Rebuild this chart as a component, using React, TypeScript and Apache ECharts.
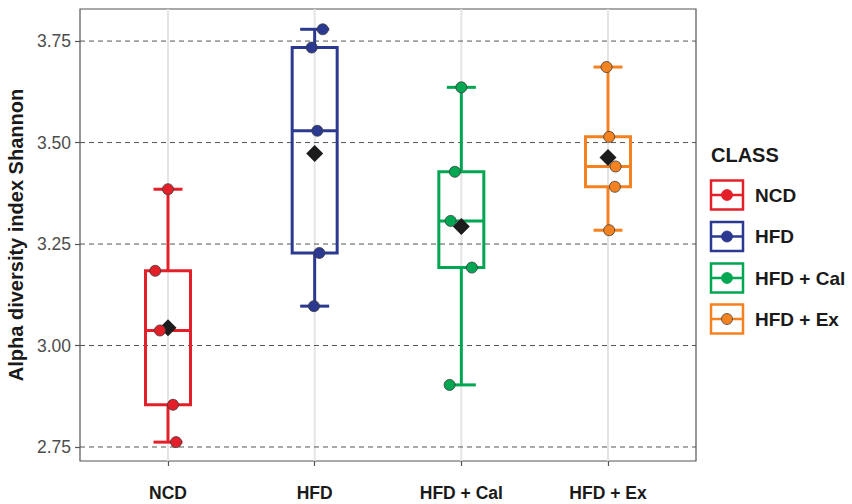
import React, { useEffect, useRef } from "react";
import * as echarts from "echarts";

const categories = ["NCD", "HFD", "HFD + Cal", "HFD + Ex"];
const colors = ["#E3202A", "#2B3990", "#00A651", "#F58220"];
const yTicks = [2.75, 3.0, 3.25, 3.5, 3.75];
const xTicks = [1, 2, 3, 4];

const whiskerLow = [2.762, 3.097, 2.903, 3.284];
const boxQ1 = [2.854, 3.228, 3.192, 3.391];
const boxMedian = [3.037, 3.529, 3.307, 3.441];
const boxQ3 = [3.184, 3.734, 3.428, 3.514];
const whiskerHigh = [3.385, 3.779, 3.636, 3.686];
const means = [3.044, 3.473, 3.293, 3.463];

const pointsNCD = [3.385, 3.184, 3.037, 2.854, 2.762];
const jitterNCD = [0.0, -0.087, -0.055, 0.034, 0.055];
const pointsHFD = [3.779, 3.734, 3.529, 3.228, 3.097];
const jitterHFD = [0.055, -0.02, 0.018, 0.032, -0.005];
const pointsCal = [3.636, 3.428, 3.307, 3.192, 2.903];
const jitterCal = [0.0, -0.044, -0.073, 0.072, -0.08];
const pointsEx = [3.686, 3.514, 3.441, 3.391, 3.284];
const jitterEx = [-0.01, 0.008, 0.052, 0.047, 0.008];

const allPoints = [pointsNCD, pointsHFD, pointsCal, pointsEx];
const allJitter = [jitterNCD, jitterHFD, jitterCal, jitterEx];

const FONT = "'Liberation Sans', Arial, Helvetica, sans-serif";

export default function App() {
  const ref = useRef<HTMLDivElement>(null);

  useEffect(() => {
    if (!ref.current) return;
    const chart = echarts.init(ref.current, undefined, { renderer: "svg" });

    const boxData = categories.map((_, i) => [
      i + 1,
      whiskerLow[i],
      boxQ1[i],
      boxMedian[i],
      boxQ3[i],
      whiskerHigh[i],
    ]);

    // grid line items: [x, y, kind] kind 0 = vertical, 1 = horizontal
    const gridData = [
      ...xTicks.map((v) => [v, 3.0, 0]),
      ...yTicks.map((v) => [1, v, 1]),
    ];

    const pointSeries = categories.map((name, i) => ({
      type: "scatter",
      name,
      z: 5,
      symbol: "circle",
      symbolSize: 11,
      itemStyle: { color: colors[i], borderColor: "#3a3a3a", borderWidth: 0.8, opacity: 1 },
      data: allPoints[i].map((v, k) => [i + 1 + allJitter[i][k], v]),
      silent: true,
    }));

    const legendY = [195, 236.5, 278, 319];
    const legendGraphics: any[] = [
      {
        type: "text",
        x: 711,
        y: 155,
        style: {
          text: "CLASS",
          font: `bold 20px ${FONT}`,
          fill: "#1a1a1a",
          verticalAlign: "middle",
        },
      },
    ];
    categories.forEach((name, i) => {
      const cy = legendY[i];
      legendGraphics.push({
        type: "rect",
        shape: { x: 711, y: cy - 14.5, width: 32, height: 29 },
        style: { stroke: colors[i], lineWidth: 2.5, fill: "#fff" },
      });
      legendGraphics.push({
        type: "line",
        shape: { x1: 711, y1: cy, x2: 743, y2: cy },
        style: { stroke: colors[i], lineWidth: 2.5 },
      });
      legendGraphics.push({
        type: "circle",
        shape: { cx: 727, cy, r: 5.5 },
        style: { fill: colors[i], stroke: i === 3 ? "#444" : colors[i], lineWidth: 0.8 },
      });
      legendGraphics.push({
        type: "text",
        x: 755,
        y: cy,
        style: {
          text: name,
          font: `bold 19px ${FONT}`,
          fill: "#1a1a1a",
          verticalAlign: "middle",
        },
      });
    });

    chart.setOption({
      animation: false,
      backgroundColor: "#ffffff",
      grid: {
        left: 80,
        top: 9,
        width: 616,
        height: 452,
        show: true,
        borderColor: "#555",
        borderWidth: 1.2,
        backgroundColor: "#fff",
        containLabel: false,
        outerBoundsMode: "none",
      },
      xAxis: {
        type: "value",
        min: 0.4,
        max: 4.6,
        axisLine: { show: false },
        splitLine: { show: false },
        axisTick: {
          show: true,
          length: 5,
          customValues: xTicks,
          lineStyle: { color: "#555", width: 1.2 },
        },
        axisLabel: {
          show: true,
          customValues: xTicks,
          margin: 23,
          fontFamily: FONT,
          fontWeight: "bold",
          fontSize: 17.5,
          color: "#1a1a1a",
          formatter: (v: number) => categories[Math.round(v) - 1] ?? "",
        },
      },
      yAxis: {
        type: "value",
        min: 2.7155,
        max: 3.829,
        name: "Alpha diversity index Shannon",
        nameLocation: "middle",
        nameRotate: 90,
        nameGap: 50,
        nameTextStyle: {
          fontFamily: FONT,
          fontWeight: "bold",
          fontSize: 20,
          color: "#1a1a1a",
        },
        axisLine: { show: false },
        splitLine: { show: false },
        axisTick: {
          show: true,
          length: 5,
          customValues: yTicks,
          lineStyle: { color: "#555", width: 1.2 },
        },
        axisLabel: {
          show: true,
          customValues: yTicks,
          margin: 9,
          fontFamily: FONT,
          fontSize: 17.5,
          color: "#4d4d4d",
          formatter: (v: number) => v.toFixed(2),
        },
      },
      graphic: legendGraphics,
      series: [
        {
          type: "custom",
          z: 1,
          silent: true,
          encode: { x: 0, y: 1 },
          data: gridData,
          renderItem: (params: any, api: any) => {
            const cs = params.coordSys;
            const p = api.coord([api.value(0), api.value(1)]);
            const kind = api.value(2);
            if (kind === 0) {
              return {
                type: "line",
                shape: { x1: p[0], y1: cs.y, x2: p[0], y2: cs.y + cs.height },
                style: { stroke: "#e4e4e4", lineWidth: 2 },
              };
            }
            return {
              type: "line",
              shape: { x1: cs.x, y1: p[1], x2: cs.x + cs.width, y2: p[1] },
              style: { stroke: "#555", lineWidth: 1, lineDash: [5, 4] },
            };
          },
        },
        {
          type: "custom",
          z: 3,
          silent: true,
          encode: { x: 0, y: [1, 2, 3, 4, 5] },
          data: boxData,
          renderItem: (params: any, api: any) => {
            const x = api.value(0);
            const lo = api.coord([x, api.value(1)]);
            const q1 = api.coord([x, api.value(2)]);
            const md = api.coord([x, api.value(3)]);
            const q3 = api.coord([x, api.value(4)]);
            const hi = api.coord([x, api.value(5)]);
            const color = colors[params.dataIndex];
            const bw = 22.5;
            const cw = 14.5;
            const st = () => ({ stroke: color, lineWidth: 3, fill: "none" });
            return {
              type: "group",
              children: [
                { type: "line", shape: { x1: lo[0], y1: lo[1], x2: q1[0], y2: q1[1] }, style: st() },
                { type: "line", shape: { x1: hi[0], y1: hi[1], x2: q3[0], y2: q3[1] }, style: st() },
                { type: "line", shape: { x1: lo[0] - cw, y1: lo[1], x2: lo[0] + cw, y2: lo[1] }, style: st() },
                { type: "line", shape: { x1: hi[0] - cw, y1: hi[1], x2: hi[0] + cw, y2: hi[1] }, style: st() },
                {
                  type: "rect",
                  shape: { x: q3[0] - bw, y: q3[1], width: 2 * bw, height: q1[1] - q3[1] },
                  style: st(),
                },
                { type: "line", shape: { x1: md[0] - bw, y1: md[1], x2: md[0] + bw, y2: md[1] }, style: st() },
              ],
            };
          },
        },
        {
          type: "scatter",
          z: 4,
          silent: true,
          symbol: "diamond",
          symbolSize: [17, 17],
          itemStyle: { color: "#1c1c1c", opacity: 1 },
          data: means.map((m, i) => [i + 1, m]),
        },
        ...pointSeries,
      ],
    });

    return () => chart.dispose();
  }, []);

  return (
    <div
      ref={ref}
      style={{ position: "fixed", left: 0, top: 0, width: 852, height: 504 }}
    />
  );
}
